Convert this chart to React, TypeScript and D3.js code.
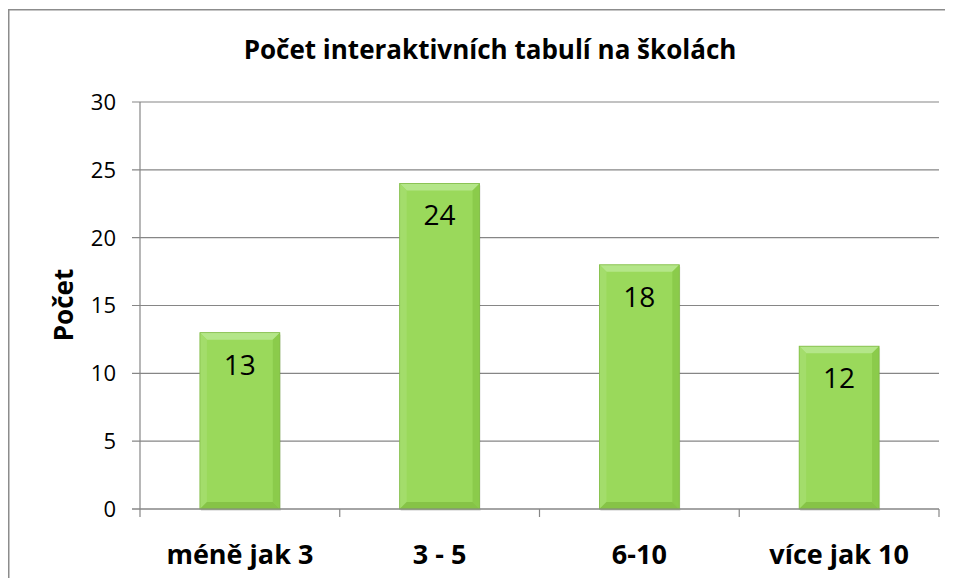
import React from "react";
import * as d3 from "d3";

const categories = ["méně jak 3", "3 - 5", "6-10", "více jak 10"];
const values = [13, 24, 18, 12];
const yTicks = [0, 5, 10, 15, 20, 25, 30];
const title = "Počet interaktivních tabulí na školách";
const yTitle = "Počet";

const W = 945;
const H = 570;
const font = "'Open Sans', Lato, sans-serif";

export default function App() {
  const left = 132;
  const right = 931;
  const top = 94;
  const bottom = 501;

  const x = d3
    .scaleBand<string>()
    .domain(categories)
    .range([left, right])
    .paddingInner(0.6)
    .paddingOuter(0.3);
  const y = d3.scaleLinear().domain([0, 30]).range([bottom, top]);

  // category boundaries for the x axis ticks
  const step = x.step();
  const bounds = d3.range(categories.length + 1).map((i) => left + i * step);

  const bevel = 7;

  React.useEffect(() => {
    document.body.style.overflow = "hidden";
  }, []);

  return (
    <svg width={W} height={H} style={{ display: "block" }} fontFamily={font}>
      <rect x={0.75} y={1.75} width={W + 20} height={H + 20} fill="#fff" stroke="#8c8c8c" strokeWidth={1.5} />

      <text x={482} y={51} textAnchor="middle" fontWeight="bold" fontSize={26} fill="#000">
        {title}
      </text>

      {/* gridlines + y ticks */}
      {yTicks.map((t) => (
        <g key={t}>
          <line x1={left - 8} x2={right} y1={y(t)} y2={y(t)} stroke="#868686" strokeWidth={1.2} />
          <text x={108} y={y(t)} dy="0.36em" textAnchor="end" fontSize={22} fill="#000">
            {t}
          </text>
        </g>
      ))}
      <line x1={left} x2={left} y1={top} y2={bottom} stroke="#868686" strokeWidth={1.2} />
      {bounds.map((b, i) => (
        <line key={i} x1={b} x2={b} y1={bottom} y2={bottom + 8} stroke="#868686" strokeWidth={1.2} />
      ))}

      <text
        transform={`translate(65, 297) rotate(-90)`}
        textAnchor="middle"
        fontWeight="bold"
        fontSize={26}
        fill="#000"
      >
        {yTitle}
      </text>

      {/* bars with bevel */}
      {values.map((v, i) => {
        const bx = x(categories[i])!;
        const bw = x.bandwidth();
        const by = y(v);
        const bh = y(0) - by;
        const b = bevel;
        const pts = (arr: number[][]) => arr.map((p) => p.join(",")).join(" ");
        return (
          <g key={categories[i]}>
            <rect x={bx + 1} y={by + 2} width={bw} height={bh} fill="#000" opacity={0.1} />
            <rect x={bx} y={by} width={bw} height={bh} fill="#9ad95b" />
            <polygon points={pts([[bx, by], [bx + bw, by], [bx + bw - b, by + b], [bx + b, by + b]])} fill="#b4e689" />
            <polygon points={pts([[bx, by], [bx + b, by + b], [bx + b, by + bh - b], [bx, by + bh]])} fill="#a3dd6b" />
            <polygon points={pts([[bx + bw, by], [bx + bw, by + bh], [bx + bw - b, by + bh - b], [bx + bw - b, by + b]])} fill="#8bcb4b" />
            <polygon points={pts([[bx, by + bh], [bx + b, by + bh - b], [bx + bw - b, by + bh - b], [bx + bw, by + bh]])} fill="#86c347" />
            <rect x={bx} y={by} width={bw} height={bh} fill="none" stroke="#80bb46" strokeWidth={0.8} />
            <text x={bx + bw / 2} y={by + 42} textAnchor="middle" fontSize={28} fill="#000">
              {v}
            </text>
          </g>
        );
      })}

      <line x1={left - 8} x2={right} y1={bottom} y2={bottom} stroke="#868686" strokeWidth={1.2} />

      {categories.map((c) => (
        <text key={c} x={x(c)! + x.bandwidth() / 2} y={556} textAnchor="middle" fontWeight="bold" fontSize={27} fill="#000">
          {c}
        </text>
      ))}
    </svg>
  );
}
